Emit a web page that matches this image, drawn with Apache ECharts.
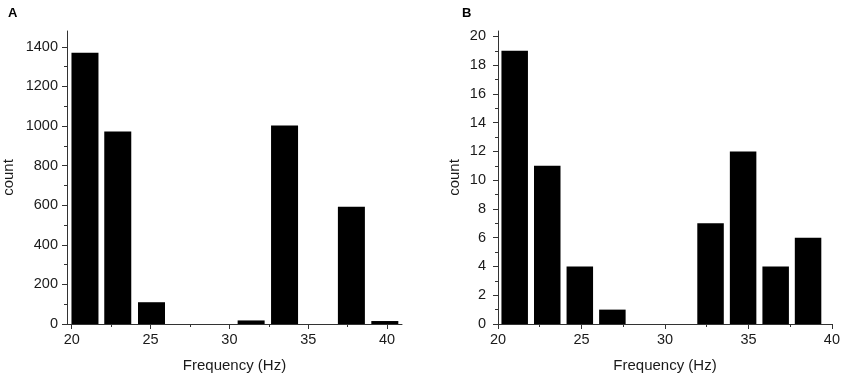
<!DOCTYPE html>
<html>
<head>
<meta charset="utf-8">
<script src="https://cdn.jsdelivr.net/npm/echarts@6/dist/echarts.min.js"></script>
<style>html,body{margin:0;padding:0;background:#fff}#c{width:843px;height:379px}</style>
</head>
<body>
<div id="c"></div>
<script>
// Panel A
var binCentersA = [20.84, 22.92, 25.06, 27.18, 29.28, 31.38, 33.5, 35.62, 37.74, 39.86];
var countsA = [1370, 972, 110, 0, 0, 18, 1003, 0, 592, 15];
var yTicksA = [0, 200, 400, 600, 800, 1000, 1200, 1400];
var yMinorA = [100, 300, 500, 700, 900, 1100, 1300];
// Panel B
var binCentersB = [21.0, 22.95, 24.9, 26.85, 28.8, 30.75, 32.73, 34.68, 36.63, 38.57];
var countsB = [19, 11, 4, 1, 0, 0, 7, 12, 4, 6];
var yTicksB = [0, 2, 4, 6, 8, 10, 12, 14, 16, 18, 20];
var yMinorB = [1, 3, 5, 7, 9, 11, 13, 15, 17, 19];
// shared x ticks
var xTicks = [20, 25, 30, 35, 40];
var xMinor = [22.5, 27.5, 32.5, 37.5];

var FONT = '"Liberation Sans", Arial, sans-serif';
var TXT = '#1a1a1a';
var LINE = '#333';
function plain(v) { return String(v); }

function pairs(xs, ys) { return xs.map(function (x, i) { return [x, ys[i]]; }); }

function xAxes(gi, min, max) {
  return [{
    type: 'value', gridIndex: gi, min: min, max: max,
    name: 'Frequency (Hz)', nameLocation: 'middle', nameGap: 34,
    nameTextStyle: { fontFamily: FONT, fontSize: 15, color: TXT },
    axisLine: { show: true, onZero: false, lineStyle: { color: LINE, width: 1 } },
    axisTick: { show: true, length: 5, customValues: xTicks, lineStyle: { color: LINE } },
    axisLabel: { customValues: xTicks, formatter: plain, fontFamily: FONT, fontSize: 14.5, color: TXT, margin: 8 },
    splitLine: { show: false }
  }, {
    type: 'value', gridIndex: gi, min: min, max: max, position: 'bottom',
    axisLine: { show: false },
    axisTick: { show: true, length: 3, customValues: xMinor, lineStyle: { color: LINE } },
    axisLabel: { show: false },
    splitLine: { show: false }
  }];
}
function yAxes(gi, max, ticks, minor, gap, lblMargin) {
  return [{
    type: 'value', gridIndex: gi, min: 0, max: max,
    name: 'count', nameLocation: 'middle', nameGap: gap, nameRotate: 90,
    nameTextStyle: { fontFamily: FONT, fontSize: 15, color: TXT },
    axisLine: { show: true, onZero: false, lineStyle: { color: LINE, width: 1 } },
    axisTick: { show: true, length: 5, customValues: ticks, lineStyle: { color: LINE } },
    axisLabel: { customValues: ticks, formatter: plain, fontFamily: FONT, fontSize: 14.5, color: TXT, margin: lblMargin },
    splitLine: { show: false }
  }, {
    type: 'value', gridIndex: gi, min: 0, max: max, position: 'left',
    axisLine: { show: false },
    axisTick: { show: true, length: 3, customValues: minor, lineStyle: { color: LINE } },
    axisLabel: { show: false },
    splitLine: { show: false }
  }];
}

var chart = echarts.init(document.getElementById('c'), null, { renderer: 'canvas' });
chart.setOption({
  animation: false,
  backgroundColor: '#fff',
  title: [
    { text: 'A', left: 3, top: 2, textStyle: { fontFamily: FONT, fontSize: 13, fontWeight: 'bold', color: '#000' } },
    { text: 'B', left: 457, top: 2, textStyle: { fontFamily: FONT, fontSize: 13, fontWeight: 'bold', color: '#000' } }
  ],
  grid: [
    { left: 64, right: 441, top: 31, bottom: 55 },
    { left: 498, right: 9.5, top: 31, bottom: 55 }
  ],
  xAxis: xAxes(0, 19.7, 40.95).concat(xAxes(1, 20, 40)),
  yAxis: yAxes(0, 1480, yTicksA, yMinorA, 51, 9).concat(yAxes(1, 20.38, yTicksB, yMinorB, 36, 12)),
  series: [
    { type: 'bar', xAxisIndex: 0, yAxisIndex: 0, barWidth: 27, data: pairs(binCentersA, countsA),
      itemStyle: { color: '#000' } },
    { type: 'bar', xAxisIndex: 2, yAxisIndex: 2, barWidth: 26.5, data: pairs(binCentersB, countsB),
      itemStyle: { color: '#000' } }
  ]
});
</script>
</body>
</html>
